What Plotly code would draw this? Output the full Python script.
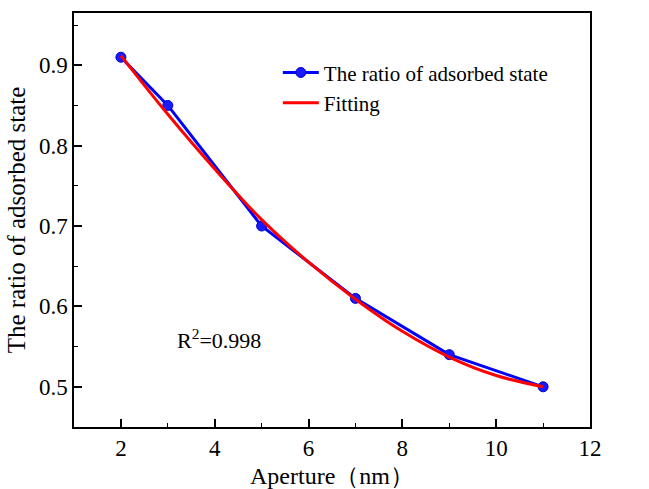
import plotly.graph_objects as go

aperture = [2, 3, 5, 7, 9, 11]
ratio = [0.91, 0.85, 0.70, 0.61, 0.54, 0.50]

fit_x = [2, 3, 4, 5, 6, 7, 8, 9, 10, 11]
fit_y = [0.912, 0.839, 0.771, 0.708, 0.655, 0.609, 0.569, 0.537, 0.514, 0.500]

FONT = "Liberation Serif"

fig = go.Figure()
fig.add_trace(go.Scatter(
    x=aperture, y=ratio, mode="lines+markers",
    name="The ratio of adsorbed state",
    line=dict(color="#0000ff", width=3),
    marker=dict(color="#1a1aff", size=10, line=dict(color="#0000cc", width=1)),
))
fig.add_trace(go.Scatter(
    x=fit_x, y=fit_y, mode="lines", name="Fitting",
    line=dict(color="#ff0000", width=3, shape="spline", smoothing=1.0),
))

axis_common = dict(
    showgrid=False, zeroline=False, showline=True, linecolor="black", linewidth=1.5,
    mirror=True, ticks="inside", ticklen=8, tickwidth=1.5, tickcolor="black",
    tickfont=dict(family=FONT, size=23, color="black"), automargin=False,
)

fig.update_xaxes(
    range=[1, 12], dtick=2, tick0=0,
    minor=dict(ticks="inside", ticklen=4, tickwidth=1.2, tickcolor="black", dtick=1),
    title=dict(text="Aperture（nm）", font=dict(family=FONT, size=24, color="black"), standoff=9),
    **axis_common,
)
fig.update_yaxes(
    range=[0.45, 0.965], dtick=0.1, tick0=0.5,
    minor=dict(ticks="inside", ticklen=4, tickwidth=1.2, tickcolor="black", dtick=0.05),
    tickformat=".1f",
    title=dict(text="The ratio of adsorbed state", font=dict(family=FONT, size=25, color="black"), standoff=6),
    **axis_common,
)

fig.add_annotation(
    x=3.15, y=0.559, xref="x", yref="y", xanchor="left", yanchor="middle",
    text="R<sup>2</sup>=0.998", showarrow=False,
    font=dict(family=FONT, size=22, color="black"),
)

fig.update_layout(
    width=649, height=489,
    margin=dict(l=74, r=59, t=13, b=62),
    paper_bgcolor="white", plot_bgcolor="white",
    showlegend=True,
    legend=dict(
        x=0.395, y=0.905, xanchor="left", yanchor="top",
        font=dict(family=FONT, size=21, color="black"),
        bgcolor="rgba(0,0,0,0)", itemwidth=36, tracegroupgap=0,
    ),
)

fig.write_html("out.html")
